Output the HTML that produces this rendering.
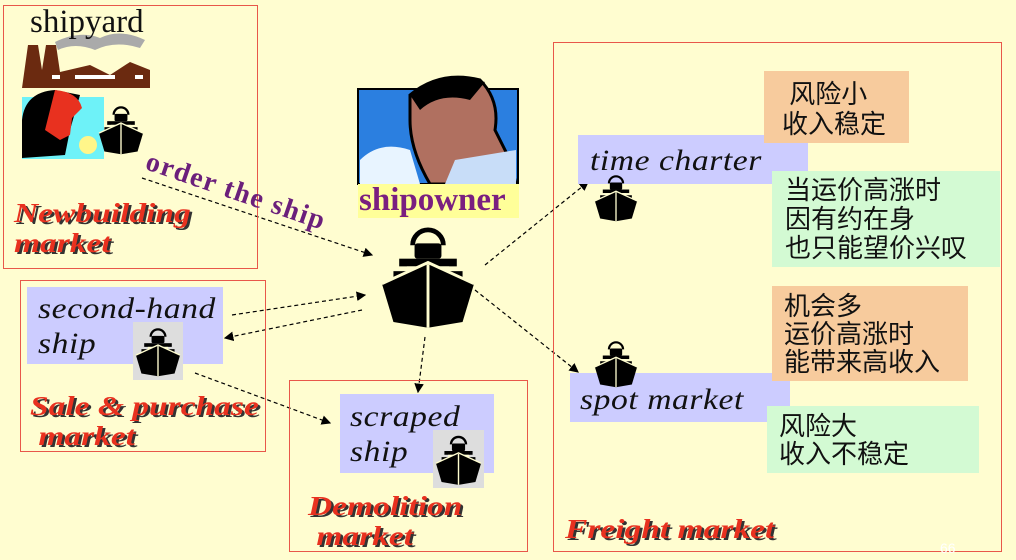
<!DOCTYPE html>
<html><head><meta charset="utf-8"><style>
body{margin:0}
#c{position:relative;width:1016px;height:560px;background:#FFFDD0;overflow:hidden;font-family:"Liberation Serif",serif}
.a{position:absolute}
.box{position:absolute;border:1.5px solid #E8574A;box-sizing:border-box}
.red{position:absolute;color:#E8311F;font-weight:bold;font-style:italic;font-size:27px;line-height:30px;text-shadow:2px 2px 0 #333;font-family:"Liberation Serif",serif;transform:scaleX(1.24);transform-origin:left top;white-space:nowrap}
.lab{position:absolute;background:#CCCCFF;font-style:italic;color:#111;font-size:30px;line-height:35px;letter-spacing:0.5px;white-space:nowrap}
.lab span{display:inline-block;transform:scaleX(1.12);transform-origin:left center}
.cn{position:absolute;font-family:"Liberation Sans","Noto Sans CJK SC",sans-serif;font-size:26px;line-height:28px;color:#111}
</style></head><body><div id="c">
<svg class="a" style="left:0;top:0" width="1016" height="560">
<defs>
<symbol id="ship" viewBox="0 0 100 110">
<path d="M34 24 A16 16 0 0 1 66 24" fill="none" stroke="#000" stroke-width="5"/>
<rect x="36" y="22" width="28" height="16" rx="3" fill="#000"/>
<rect x="20" y="38" width="60" height="8" fill="#000"/>
<rect x="28" y="46" width="44" height="5" fill="#FFFDD0"/>
<rect x="14" y="51" width="72" height="9" fill="#000"/>
<path d="M2 64 L50 42 L98 64 L86 104 L50 110 L14 104 Z" fill="#000"/>
<path d="M2 64 L50 42 L98 64" fill="none" stroke="#FFFDD0" stroke-width="3"/>
<line x1="50" y1="44" x2="50" y2="110" stroke="#FFFDD0" stroke-width="3"/>
</symbol>
<marker id="ar" markerWidth="8" markerHeight="8" refX="7" refY="4" orient="auto"><path d="M0 0 L8 4 L0 8 Z" fill="#000"/></marker>
</defs>
<g stroke="#000" stroke-width="1.2" stroke-dasharray="4 3" fill="none" marker-end="url(#ar)">
<line x1="142" y1="178" x2="372" y2="255"/>
<line x1="232" y1="315" x2="365" y2="295"/>
<line x1="362" y1="310" x2="225" y2="338"/>
<line x1="195" y1="373" x2="330" y2="423"/>
<line x1="425" y1="337" x2="418" y2="392"/>
<line x1="485" y1="265" x2="588" y2="182"/>
<line x1="475" y1="290" x2="578" y2="372"/>
</g>
<path d="M22 88 L28 45 L38 45 L42 70 L46 45 L56 45 L60 72 L90 65 L110 75 L130 62 L150 70 L150 88 Z" fill="#6B2A10"/>
<rect x="52" y="75" width="8" height="4" fill="#fff"/><rect x="75" y="75" width="40" height="4" fill="#fff"/><rect x="135" y="75" width="8" height="4" fill="#fff"/>
<path d="M55 42 Q80 30 100 38 Q120 28 145 40 L140 48 Q115 40 95 50 Q75 42 58 50 Z" fill="#aaa"/>
<rect x="22" y="97" width="82" height="62" fill="#6EF2F8"/>
<path d="M22 120 Q25 92 55 90 L80 95 L70 130 L65 155 L22 158 Z" fill="#000"/>
<path d="M55 90 Q78 92 82 108 L72 118 L70 135 L60 140 L45 130 Z" fill="#E8311F"/>
<circle cx="88" cy="145" r="9" fill="#FFF68A"/>
<use href="#ship" x="98" y="98" width="46" height="62"/>
<rect x="358" y="89" width="160" height="95" fill="#2B7FE0" stroke="#000" stroke-width="2"/>
<path d="M360 160 Q380 140 410 150 L420 184 L360 184 Z" fill="#E8F4FF"/>
<path d="M410 95 Q440 70 480 80 Q500 100 495 130 L510 160 L516 184 L430 184 Q410 150 410 120 Z" fill="#B07060" stroke="#000" stroke-width="3"/>
<path d="M410 95 Q440 70 485 82 L470 100 Q440 92 420 110 Z" fill="#000"/>
<path d="M455 160 L516 150 L516 184 L445 184 Z" fill="#C8DDF8"/>
<rect x="358" y="184" width="161" height="34" fill="#FFFF99"/>
<use href="#ship" x="380" y="220" width="96" height="110"/>
</svg>
<div class="box" style="left:3px;top:5px;width:255px;height:264px"></div>
<div class="box" style="left:20px;top:280px;width:246px;height:172px"></div>
<div class="box" style="left:289px;top:380px;width:239px;height:172px"></div>
<div class="box" style="left:553px;top:42px;width:449px;height:510px"></div>
<div class="a" style="left:30px;top:4px;font-size:33px;color:#111">shipyard</div>
<div class="red" style="left:14px;top:198px">Newbuilding<br>market</div>
<div class="a" style="left:152px;top:146px;font-size:28px;letter-spacing:1.5px;font-weight:bold;color:#6B1F7B;transform:rotate(19deg);transform-origin:left top;white-space:nowrap">order the ship</div>
<div class="a" style="left:359px;top:182px;font-size:33px;font-weight:bold;color:#7A1F80">shipowner</div>
<div class="lab" style="left:27px;top:287px;width:196px;height:77px;padding:4px 0 0 11px;box-sizing:border-box"><span>second-hand</span><br><span>ship</span></div>
<div class="red" style="left:30px;top:391px">Sale &amp; purchase<br>&nbsp;market</div>
<div class="lab" style="left:340px;top:394px;width:154px;height:79px;padding:5px 0 0 10px;box-sizing:border-box"><span>scraped</span><br><span>ship</span></div>
<div class="red" style="left:308px;top:491px">Demolition<br>&nbsp;market</div>
<div class="red" style="left:565px;top:514px">Freight market</div>
<div class="lab" style="left:578px;top:135px;width:230px;height:49px;padding-left:12px;box-sizing:border-box;line-height:52px"><span>time charter</span></div>
<div class="lab" style="left:570px;top:373px;width:220px;height:49px;padding-left:10px;box-sizing:border-box;line-height:54px"><span>spot market</span></div>
<div class="cn" style="left:764px;top:71px;width:145px;height:72px;background:#F7CB9D;padding:8px 0 0 18px;box-sizing:border-box;line-height:30px">&nbsp;风险小<br>收入稳定</div>
<div class="cn" style="left:772px;top:171px;width:228px;height:96px;background:#D3FAD3;padding:5px 0 0 13px;box-sizing:border-box;line-height:29px">当运价高涨时<br>因有约在身<br>也只能望价兴叹</div>
<div class="cn" style="left:772px;top:286px;width:196px;height:95px;background:#F7CB9D;padding:6px 0 0 12px;box-sizing:border-box">机会多<br>运价高涨时<br>能带来高收入</div>
<div class="cn" style="left:767px;top:406px;width:212px;height:67px;background:#D3FAD3;padding:6px 0 0 12px;box-sizing:border-box">风险大<br>收入不稳定</div>
<svg class="a" style="left:0;top:0" width="1016" height="560">
<rect x="133" y="322" width="50" height="58" fill="#ddd"/>
<use href="#ship" x="135" y="324" width="46" height="54"/>
<rect x="433" y="430" width="51" height="58" fill="#ddd"/>
<use href="#ship" x="435" y="432" width="47" height="54"/>
<use href="#ship" x="594" y="170" width="44" height="54"/>
<use href="#ship" x="594" y="336" width="44" height="54"/>
</svg>
<div class="a" style="left:940px;top:540px;font-size:14px;color:#fff;font-family:'Liberation Sans',sans-serif">66</div>
</div></body></html>
